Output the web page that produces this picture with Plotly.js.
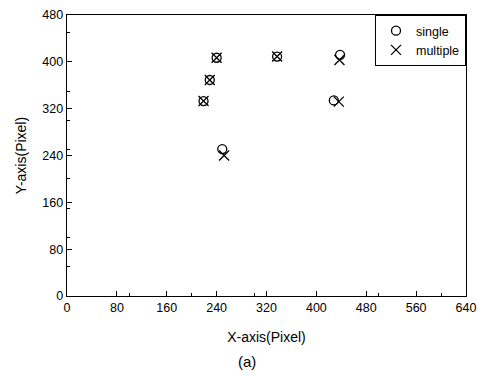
<!DOCTYPE html>
<html><head><meta charset="utf-8">
<script src="https://cdn.plot.ly/plotly-3.0.1.min.js"></script>
<style>html,body{margin:0;padding:0;background:#fff}#c{width:478px;height:376px}</style>
</head><body><div id="c"></div>
<script>
const singleX = [240, 337, 229, 219, 438, 428, 249];
const singleY = [407, 409, 369, 333, 412, 334, 251];
const multiX = [240, 337, 229, 219, 437, 436, 252];
const multiY = [407, 409, 369, 333, 403, 332, 240];
const xTicks = [0, 80, 160, 240, 320, 400, 480, 560, 640];
const yTicks = [0, 80, 160, 240, 320, 400, 480];

const fontFam = 'Liberation Sans, Arial, sans-serif';
const data = [
  {x: singleX, y: singleY, mode: 'markers', type: 'scatter', name: 'single',
   marker: {symbol: 'circle-open', size: 9, color: '#000', line: {width: 1.3, color: '#000'}}},
  {x: multiX, y: multiY, mode: 'markers', type: 'scatter', name: 'multiple',
   marker: {symbol: 'x-thin-open', size: 10, color: '#000', line: {width: 1.3, color: '#000'}}}
];
const axisCommon = {
  showgrid: false, zeroline: false, showline: true, linecolor: '#000', linewidth: 1.3,
  mirror: true, ticks: 'inside', ticklen: 5, tickcolor: '#000', tickwidth: 1,
  minor: {ticks: 'inside', ticklen: 3, tickcolor: '#000', nticks: 2},
  tickfont: {family: fontFam, size: 12.5, color: '#000'}
};
const layout = {
  width: 478, height: 376,
  margin: {l: 67, r: 12, t: 15, b: 80},
  paper_bgcolor: '#fff', plot_bgcolor: '#fff',
  showlegend: true,
  legend: {x: 1, y: 1, xanchor: 'right', yanchor: 'top', bgcolor: '#fff',
    bordercolor: '#000', borderwidth: 1, font: {family: fontFam, size: 12.5, color: '#000'},
    itemwidth: 30, tracegroupgap: 0},
  xaxis: Object.assign({}, axisCommon, {range: [0, 640], tickvals: xTicks,
    title: {text: 'X-axis(Pixel)', font: {family: fontFam, size: 14, color: '#000'}, standoff: 18}}),
  yaxis: Object.assign({}, axisCommon, {range: [0, 480], tickvals: yTicks,
    title: {text: 'Y-axis(Pixel)', font: {family: fontFam, size: 14, color: '#000'}, standoff: 12}}),
  annotations: [{text: '(a)', xref: 'paper', yref: 'paper', x: 0.45, y: -0.232,
    xanchor: 'center', yanchor: 'middle', showarrow: false,
    font: {family: fontFam, size: 15, color: '#000'}}]
};
Plotly.newPlot('c', data, layout, {displayModeBar: false, staticPlot: true});
</script></body></html>
